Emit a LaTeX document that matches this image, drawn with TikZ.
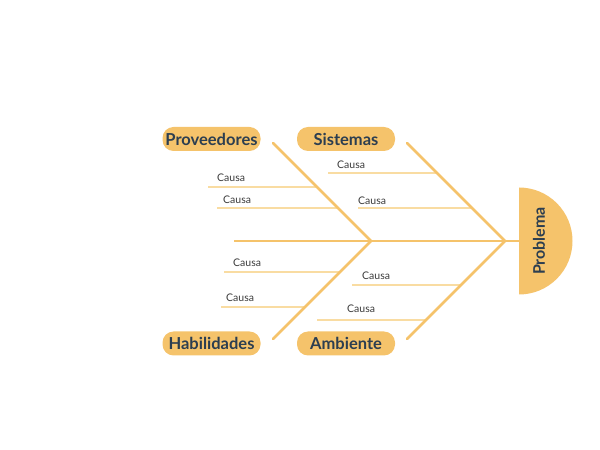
\documentclass[tikz,border=0pt]{standalone}
\usepackage{fontspec}
\setmainfont{Lato}
\usetikzlibrary{calc,positioning}
\definecolor{bone}{HTML}{F5C36B}
\definecolor{rib}{HTML}{F9DCA2}
\definecolor{ink}{HTML}{2C3E50}
\definecolor{note}{HTML}{3A3A3A}

\tikzset{
  catbox/.style={fill=bone,rounded corners=11pt,minimum width=98pt,minimum height=24pt,inner sep=0pt,
    text=ink,font=\fontsize{16.5}{18}\selectfont\bfseries},
  ribline/.style={draw=rib,line width=1.1pt},
  cause/.style={anchor=south west,inner sep=0pt,text=note,font=\fontsize{10.5}{12}\selectfont}
}

\begin{document}
\begin{tikzpicture}[x=1pt,y=1pt]
\useasboundingbox (0,0) rectangle (600,450);

% spine and joints
\coordinate (tail) at (234,209);
\coordinate (j1) at (371,209);
\coordinate (j2) at (505,209);
\coordinate (head) at (519,209);

% head
\fill[bone] (519,262.5) arc[start angle=90,end angle=-90,radius=53.5] -- cycle;
\node[rotate=90,text=ink,font=\fontsize{16}{18}\selectfont\bfseries] (problema) at (539,209) {Problema};

% bone ends
\coordinate (b1) at (273,307);
\coordinate (b2) at (407,307);
\coordinate (b3) at (273,111);
\coordinate (b4) at (407,111);

% category labels
\node[catbox] (proveedores) at (211.5,311) {Proveedores};
\node[catbox] (sistemas) at (346,311) {Sistemas};
\node[catbox] (habilidades) at (211.5,106.5) {Habilidades};
\node[catbox] (ambiente) at (346,106.5) {Ambiente};

% cause ribs
\draw[ribline] (208,263) coordinate (r1) -- (317,263);
\draw[ribline] (217,242) coordinate (r2) -- (338,242);
\draw[ribline] (328,277) coordinate (r3) -- (437,277);
\draw[ribline] (358,242) coordinate (r4) -- (472,242);
\draw[ribline] (224,178) coordinate (r5) -- (340,178);
\draw[ribline] (221,143) coordinate (r6) -- (305,143);
\draw[ribline] (352,165) coordinate (r7) -- (461,165);
\draw[ribline] (317,130) coordinate (r8) -- (426,130);

\node[cause] (causa1) at ($(r1)+(9,5)$) {Causa};
\node[cause] (causa2) at ($(r2)+(6,4)$) {Causa};
\node[cause] (causa3) at ($(r3)+(9,4)$) {Causa};
\node[cause] (causa4) at ($(r4)+(0,3)$) {Causa};
\node[cause] (causa5) at ($(r5)+(9,5)$) {Causa};
\node[cause] (causa6) at ($(r6)+(5,5)$) {Causa};
\node[cause] (causa7) at ($(r7)+(10,5)$) {Causa};
\node[cause] (causa8) at ($(r8)+(30,7)$) {Causa};

% main bones
\draw[bone,line width=2pt] (tail) -- (j1) -- (j2) -- (head);
\draw[bone,line width=2.5pt,line cap=round] (b1) -- (j1) -- (b3);
\draw[bone,line width=2.5pt,line cap=round] (b2) -- (j2) -- (b4);
\end{tikzpicture}
\end{document}
